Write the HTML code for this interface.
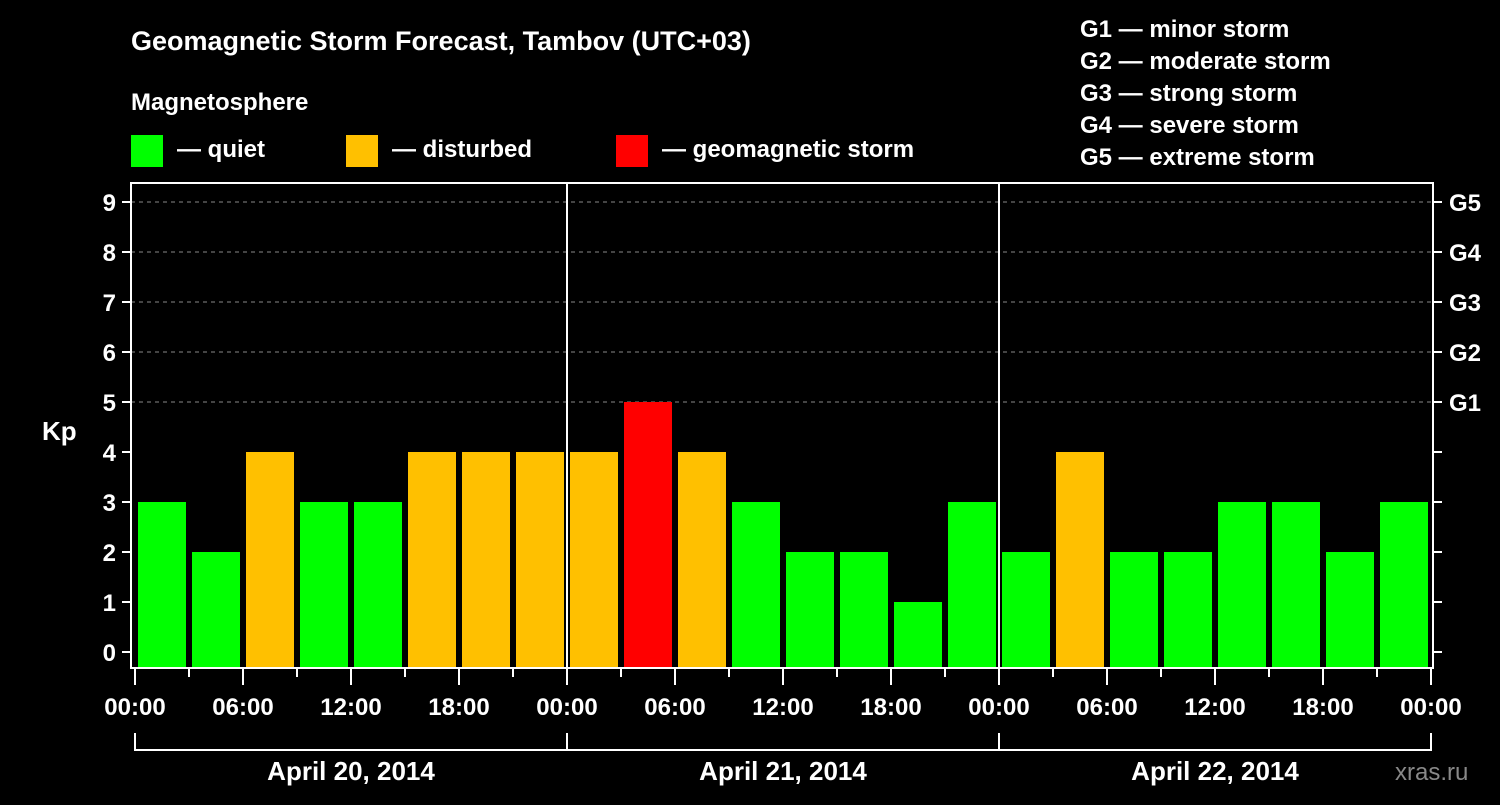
<!DOCTYPE html>
<html><head><meta charset="utf-8"><style>
html,body{margin:0;padding:0;background:#000;}
svg, svg text{font-family:"Liberation Sans",Arial,sans-serif;font-weight:bold;}
</style></head><body>
<svg id="chart" width="1500" height="800" viewBox="0 0 1500 800" font-family="Liberation Sans, Arial, sans-serif">
<text x="131" y="50" fill="#fff" font-size="27">Geomagnetic Storm Forecast, Tambov (UTC+03)</text>
<text x="131" y="110" fill="#fff" font-size="24">Magnetosphere</text>
<g><rect x="131" y="135" width="32" height="32" fill="#00ff00"/><text x="177" y="157" fill="#fff" font-size="24">— quiet</text></g>
<g><rect x="346" y="135" width="32" height="32" fill="#ffc000"/><text x="392" y="157" fill="#fff" font-size="24">— disturbed</text></g>
<g><rect x="616" y="135" width="32" height="32" fill="#ff0000"/><text x="662" y="157" fill="#fff" font-size="24">— geomagnetic storm</text></g>
<g fill="#fff" font-size="24">
<text x="1080" y="37">G1 — minor storm</text><text x="1080" y="69">G2 — moderate storm</text><text x="1080" y="101">G3 — strong storm</text><text x="1080" y="133">G4 — severe storm</text><text x="1080" y="165">G5 — extreme storm</text>
</g>
<text x="42" y="440" fill="#fff" font-size="26">Kp</text>
<text x="1395" y="780" fill="#888" font-size="24" font-weight="normal" style="font-weight:normal">xras.ru</text>
<g id="grid"></g><g id="bars"></g><g id="axes"></g>
</svg>
<script>
const kpValues=[3,2,4,3,3,4,4,4,4,5,4,3,2,2,1,3,2,4,2,2,3,3,2,3];
const xTickLabels=["00:00","06:00","12:00","18:00"];
const dayLabels=["April 20, 2014","April 21, 2014","April 22, 2014"];
const gLabels=["G1","G2","G3","G4","G5"];
const yTicks=[0,1,2,3,4,5,6,7,8,9];
(function(){
const NS="http://www.w3.org/2000/svg";
const x0=135,slot=54,pLeft=131,pRight=1433,pTop=183,pBottom=668;
const xs=i=>x0+i*slot;
const ys=v=>652-v*50;
function mk(tag,attrs,parent,text){const e=document.createElementNS(NS,tag);for(const k in attrs)e.setAttribute(k,attrs[k]);if(text!==undefined)e.textContent=text;document.getElementById(parent).appendChild(e);return e;}
const color=v=>v>=5?"#ff0000":v>=4?"#ffc000":"#00ff00";
for(let v=5;v<=9;v++){const e=mk("line",{x1:pLeft,x2:pRight,y1:ys(v),y2:ys(v),stroke:"#888","stroke-dasharray":"4 4","stroke-width":1},"grid");

}
kpValues.forEach((v,i)=>{const e=mk("rect",{x:xs(i)+3,y:ys(v),width:48,height:pBottom-ys(v),fill:color(v)},"bars");

});
const fr=mk("rect",{x:pLeft,y:pTop,width:pRight-pLeft,height:pBottom-pTop,fill:"none",stroke:"#fff","stroke-width":2},"axes");


for(let d=1;d<dayLabels.length;d++){const e=mk("line",{x1:xs(d*8),x2:xs(d*8),y1:pTop,y2:pBottom,stroke:"#fff","stroke-width":2},"axes");

}
yTicks.forEach(v=>{mk("line",{x1:122,x2:pLeft,y1:ys(v),y2:ys(v),stroke:"#fff","stroke-width":2},"axes");
const t=mk("text",{x:116,y:ys(v)+9,fill:"#fff","font-size":24,"text-anchor":"end"},"axes",String(v));


mk("line",{x1:pRight,x2:1442,y1:ys(v),y2:ys(v),stroke:"#fff","stroke-width":2},"axes");});
gLabels.forEach((g,i)=>{const t=mk("text",{x:1449,y:ys(5+i)+9,fill:"#fff","font-size":24},"axes",g);

});
for(let i=0;i<=kpValues.length;i++){const major=i%2===0;mk("line",{x1:xs(i),x2:xs(i),y1:pBottom,y2:major?685:677,stroke:"#fff","stroke-width":2},"axes");
if(major){const t=mk("text",{x:xs(i),y:715,fill:"#fff","font-size":24,"text-anchor":"middle"},"axes",xTickLabels[(i/2)%4]);

}}
dayLabels.forEach((d,k)=>{const a=xs(k*8),b=xs(k*8+8);
mk("path",{d:"M"+a+",733V750H"+b+"V733",stroke:"#fff","stroke-width":2,fill:"none"},"axes");
const t=mk("text",{x:(a+b)/2,y:780,fill:"#fff","font-size":26,"text-anchor":"middle"},"axes",d);

});
})();
</script>
</body></html>
